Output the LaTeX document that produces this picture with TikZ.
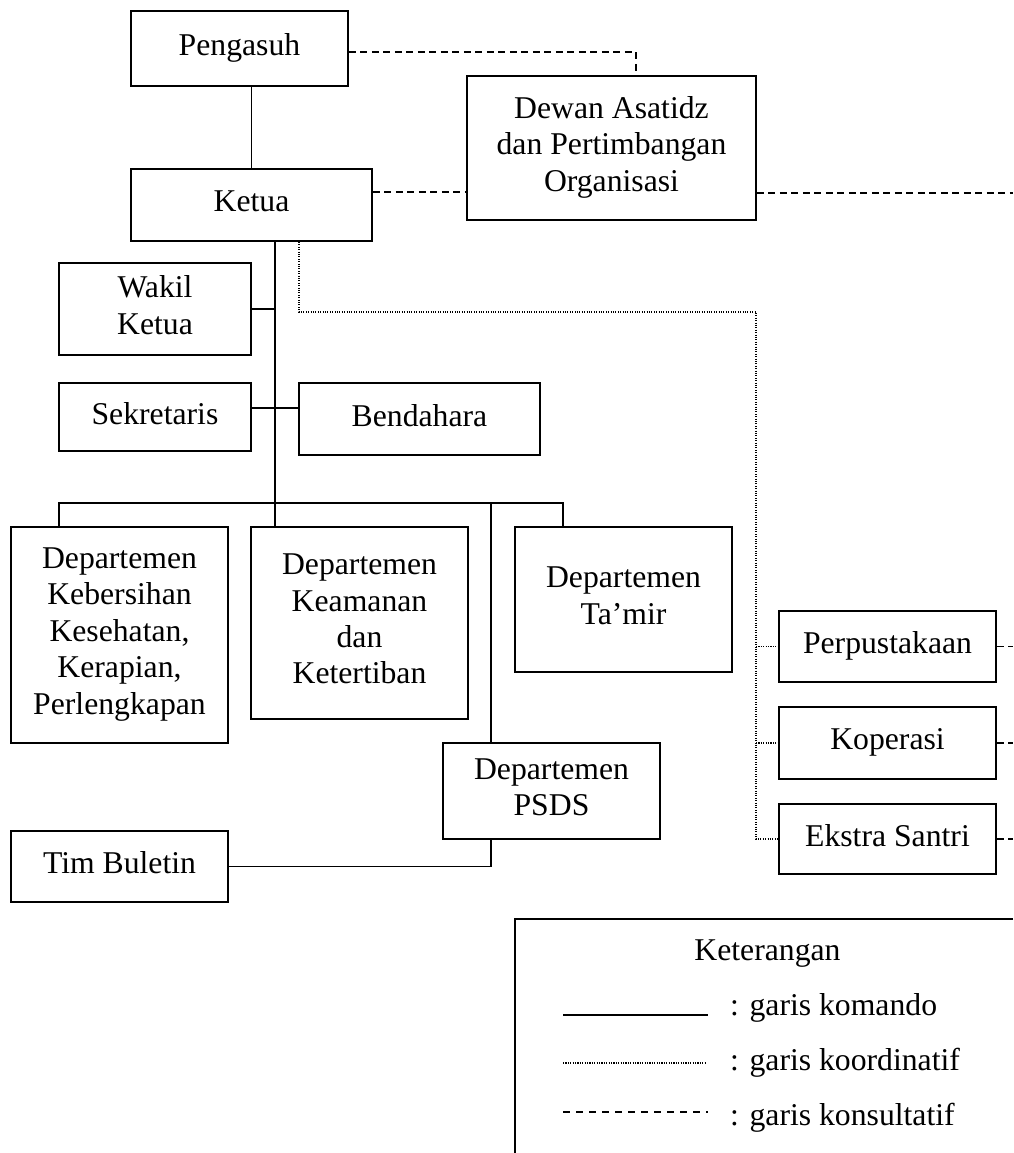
\documentclass[tikz,border=0pt]{standalone}
\usepackage{fontspec}
\setmainfont{Liberation Serif}
\usetikzlibrary{calc}
\begin{document}
\begin{tikzpicture}[x=1pt,y=-1pt,
  box/.style={draw, line width=1.9pt, inner sep=0pt, align=center, text depth=8pt,
    font=\fontsize{31.7}{36.4}\selectfont},
  kom/.style={line width=1.6pt},
  koord/.style={line width=1.1pt, dash pattern=on 1.1pt off 1.3pt},
  kons/.style={line width=1.6pt, dash pattern=on 7pt off 4.5pt},
  ltext/.style={font=\fontsize{31.7}{36.4}\selectfont, inner sep=0pt}]
\useasboundingbox[fill=white] (0,0) rectangle (1013,1153);

% boxes
\node[box, minimum width=217pt, minimum height=75pt] (peng) at (239.5,48.5) {Pengasuh};
\node[box, minimum width=241pt, minimum height=72pt] (ketua) at (251.5,205) {Ketua};
\node[box, minimum width=289pt, minimum height=144pt] (dewan) at (611.5,148) {Dewan Asatidz\\dan Pertimbangan\\Organisasi};
\node[box, minimum width=192pt, minimum height=92pt] (wakil) at (155,309) {Wakil\\Ketua};
\node[box, minimum width=192pt, minimum height=68pt] (sekr) at (155,417) {Sekretaris};
\node[box, minimum width=241pt, minimum height=72pt] (bend) at (419.5,419) {Bendahara};
\node[box, minimum width=217pt, minimum height=216pt] (d1) at (119.5,635) {Departemen\\Kebersihan\\Kesehatan,\\Kerapian,\\Perlengkapan};
\node[box, minimum width=217pt, minimum height=192pt] (d2) at (359.5,623) {Departemen\\Keamanan\\dan\\Ketertiban};
\node[box, minimum width=217pt, minimum height=145pt] (tamir) at (623.5,599.5) {Departemen\\Ta’mir};
\node[box, minimum width=217pt, minimum height=96pt] (psds) at (551.5,791) {Departemen\\PSDS};
\node[box, minimum width=217pt, minimum height=71pt] (tim) at (119.5,866.5) {Tim Buletin};
\node[box, minimum width=217pt, minimum height=71pt] (perp) at (887.5,646.5) {Perpustakaan};
\node[box, minimum width=217pt, minimum height=72pt] (kop) at (887.5,743) {Koperasi};
\node[box, minimum width=217pt, minimum height=70pt] (eks) at (887.5,839) {Ekstra Santri};

% helper coordinates
\coordinate (tk) at (275,0);
\coordinate (dk) at (299,0);
\coordinate (ys) at (0,408);
\coordinate (bar) at (0,503);
\coordinate (b1) at (59,503);
\coordinate (b4) at (563,503);
\coordinate (pv) at (491,503);
\coordinate (cd) at (756,312);
\coordinate (pk) at (636,52);
\coordinate (kk) at (0,192);
\coordinate (rE1) at (1013,193);
\coordinate (redge) at (1013,0);

% garis komando
\draw[kom] (peng.south -| ketua.north) -- (ketua.north);
\draw[kom] (ketua.south -| tk) -- (tk |- d2.north);
\draw[kom] (wakil.east) -- (wakil.east -| tk);
\draw[kom] (sekr.east |- ys) -- (bend.west |- ys);
\draw[kom] (d1.north -| b1) -- (b1) -- (b4) -- (b4 |- tamir.north);
\draw[kom] (pv) -- (pv |- psds.north);
\draw[kom] (pv |- psds.south) |- (tim.east);

% garis konsultatif
\draw[kons] (peng.east |- pk) -- (pk) -- (pk |- dewan.north);
\draw[kons] (ketua.east |- kk) -- (dewan.west |- kk);
\draw[kons] (dewan.east |- rE1) -- (rE1);
\draw[kons] (perp.east) -- (perp.east -| redge);
\draw[kons] (kop.east) -- (kop.east -| redge);
\draw[kons] (eks.east) -- (eks.east -| redge);

% garis koordinatif
\draw[koord] (ketua.south -| dk) |- (cd) |- (eks.west);
\draw[koord] (cd |- perp.west) -- (perp.west);
\draw[koord] (cd |- kop.west) -- (kop.west);

% legend
\coordinate (lgA) at (1013,919);
\coordinate (lgB) at (515,919);
\coordinate (lgC) at (515,1153);
\draw[line width=1.9pt] (lgA) -- (lgB) -- (lgC);
\node[ltext, anchor=base] (ket) at (767.5,960) {Keterangan};
\coordinate (l1a) at (563,1015); \coordinate (l1b) at (708,1015);
\coordinate (l2a) at (563,1063); \coordinate (l2b) at (705,1063);
\coordinate (l3a) at (563,1112); \coordinate (l3b) at (708,1112);
\draw[line width=1.8pt] (l1a) -- (l1b);
\draw[koord] (l2a) -- (l2b);
\draw[line width=1.5pt, dash pattern=on 7pt off 6pt] (l3a) -- (l3b);
\node[ltext, anchor=base west] (t1) at (730,1015) {: garis komando};
\node[ltext, anchor=base west] (t2) at (730,1070) {: garis koordinatif};
\node[ltext, anchor=base west] (t3) at (730,1125) {: garis konsultatif};
\end{tikzpicture}
\end{document}
